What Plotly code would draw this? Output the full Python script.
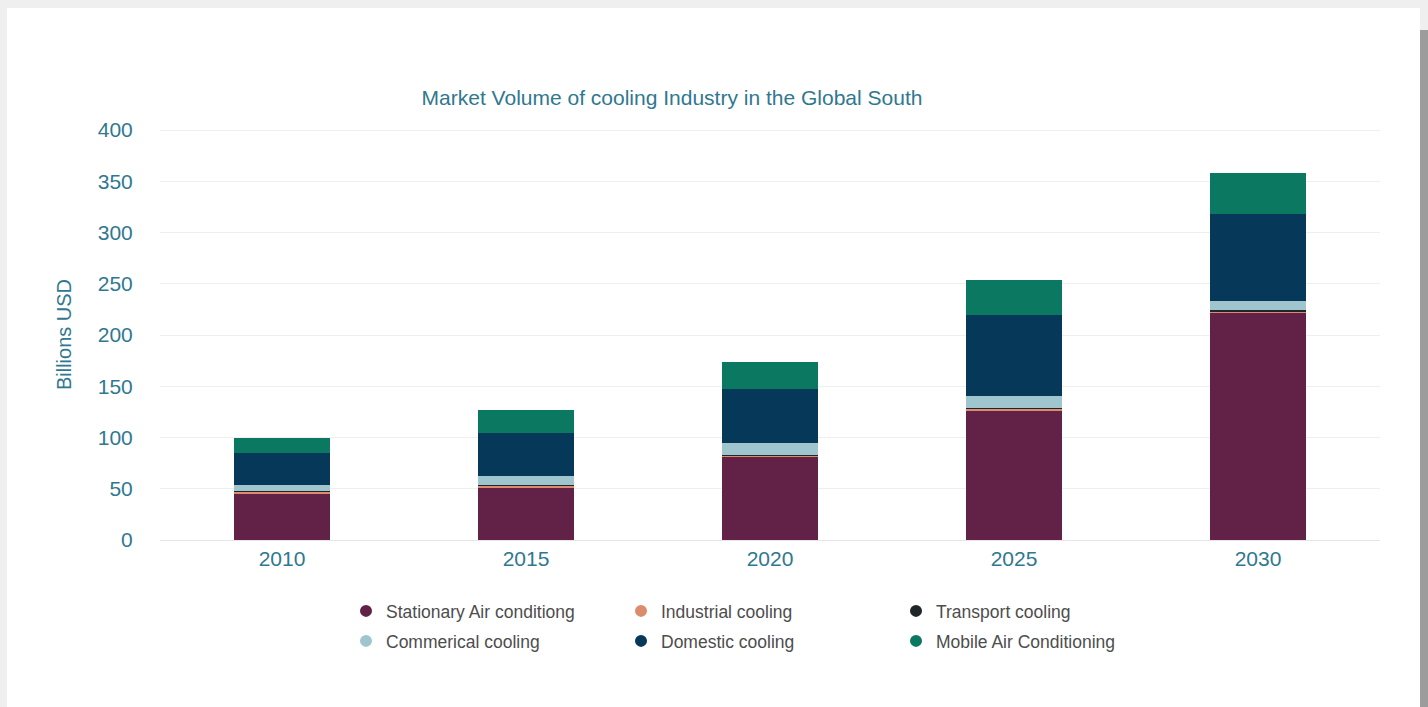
import plotly.graph_objects as go

years = ["2010", "2015", "2020", "2025", "2030"]
stationary = [45, 51, 80.5, 126, 221]
industrial = [2.5, 2, 2, 2, 2]
transport = [0.5, 0.5, 0.5, 0.5, 1.5]
commercial = [6, 9, 12, 12, 9]
domestic = [31, 42, 52, 79, 85]
mobile = [15, 22, 27, 34, 40]

series_names = ["Stationary Air conditiong", "Industrial cooling", "Transport cooling",
                "Commerical cooling", "Domestic cooling", "Mobile Air Conditioning"]
series_values = [stationary, industrial, transport, commercial, domestic, mobile]
colors = ["#622146", "#dc8c6c", "#1e2628", "#9fc6cf", "#06385a", "#0b7862"]

TEAL = "#2f7890"
FONT = "Liberation Sans, Arial, sans-serif"

fig = go.Figure()
for name, vals, col in zip(series_names, series_values, colors):
    fig.add_trace(go.Bar(x=years, y=vals, name=name, marker=dict(color=col, line=dict(width=0)),
                         showlegend=False))

# legend entries with round markers, split over two rows
for i, (name, col) in enumerate(zip(series_names, colors)):
    fig.add_trace(go.Scatter(x=[None], y=[None], mode="markers", name=name,
                             marker=dict(symbol="circle", size=12, color=col),
                             legend="legend" if i < 3 else "legend2"))

W, H = 1428, 707
L, R, T, B = 160, 48, 129, 167
pw, ph = W - L - R, H - T - B

def px_x(p):
    return (p - L) / pw

def px_y(p):
    return (H - B - p) / ph

shapes = [
    dict(type="rect", xref="paper", yref="paper", x0=px_x(1420), x1=px_x(1430),
         y0=px_y(720), y1=px_y(30), fillcolor="#9c9c9c", line=dict(width=0), layer="below"),
    dict(type="rect", xref="paper", yref="paper", x0=px_x(7), x1=px_x(1420),
         y0=px_y(720), y1=px_y(8), fillcolor="#ffffff", line=dict(width=0), layer="below"),
]

legend_common = dict(orientation="h", xanchor="left", yanchor="middle", traceorder="normal",
                     font=dict(family=FONT, size=17.5, color="#4d4d4d"),
                     bgcolor="rgba(0,0,0,0)", entrywidth=230, entrywidthmode="pixels",
                     itemclick=False)

fig.update_layout(
    width=W, height=H,
    margin=dict(l=L, r=R, t=T, b=B),
    paper_bgcolor="#efefef",
    plot_bgcolor="#ffffff",
    barmode="stack",
    bargap=0.61,
    shapes=shapes,
    title=dict(text="Market Volume of cooling Industry in the Global South",
               x=px_x(672), xanchor="center", y=1 - 98 / H, yanchor="middle",
               xref="paper",
               font=dict(family=FONT, size=21, color=TEAL)),
    xaxis=dict(type="category", showgrid=False, showline=True, linecolor="#e6e6e6",
               tickfont=dict(family=FONT, size=21, color=TEAL), ticks="", ticklen=0),
    yaxis=dict(range=[0, 401], tickvals=[0, 50, 100, 150, 200, 250, 300, 350, 400],
               showgrid=True, gridcolor="#efefef", gridwidth=1,
               zeroline=False, tickfont=dict(family=FONT, size=21, color=TEAL),
               ticks="outside", ticklen=22, tickcolor="rgba(0,0,0,0)",
               title=dict(text="Billions USD", font=dict(family=FONT, size=20, color=TEAL),
                          standoff=20)),
    legend=dict(x=px_x(346), y=px_y(611), **legend_common),
    legend2=dict(x=px_x(346), y=px_y(641), **legend_common),
)

fig.write_html("out.html", config={"displayModeBar": False},
               post_script="document.body.style.margin='0px';")
